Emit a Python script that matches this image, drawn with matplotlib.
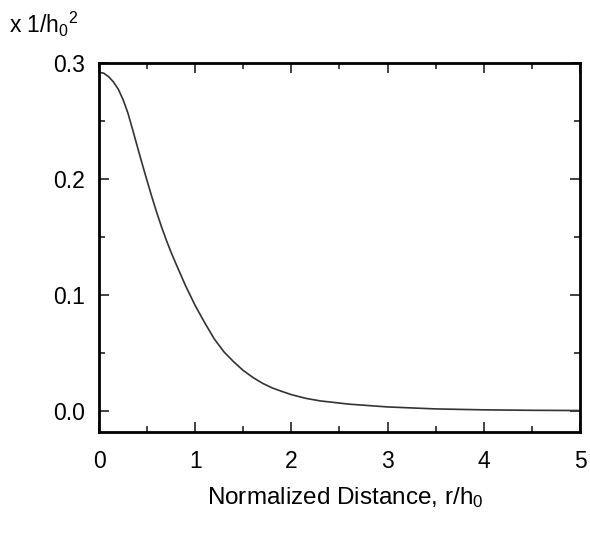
import matplotlib
matplotlib.use("Agg")
import matplotlib.pyplot as plt
from matplotlib.ticker import MultipleLocator

plt.rcParams['font.family'] = ['Liberation Sans', 'DejaVu Sans']
plt.rcParams['mathtext.fontset'] = 'custom'
plt.rcParams['mathtext.rm'] = 'Liberation Sans'
plt.rcParams['mathtext.it'] = 'Liberation Sans'

# Values
r_values = [0.0, 0.05, 0.1, 0.15, 0.2, 0.25, 0.3, 0.35, 0.4, 0.45, 0.5, 0.55, 0.6, 0.65,
            0.7, 0.75, 0.8, 0.9, 1.0, 1.1, 1.2, 1.3, 1.4, 1.5, 1.6, 1.7, 1.8, 1.9, 2.0,
            2.15, 2.3, 2.6, 3.0, 3.5, 4.0, 4.5, 5.0]
density = [0.292, 0.2912, 0.2882, 0.2837, 0.2775, 0.2685, 0.257, 0.2425, 0.2275, 0.2128,
           0.1985, 0.1845, 0.1712, 0.1588, 0.1473, 0.1367, 0.127, 0.108, 0.091, 0.076,
           0.062, 0.051, 0.0425, 0.035, 0.029, 0.024, 0.020, 0.017, 0.0142, 0.011,
           0.0088, 0.0060, 0.0036, 0.0019, 0.0011, 0.0007, 0.0005]
x_ticks = [0, 1, 2, 3, 4, 5]
y_ticks = [0.0, 0.1, 0.2, 0.3]

fig = plt.figure(figsize=(5.90, 5.34), dpi=100)
ax = fig.add_axes([0.1678, 0.191, 0.8152, 0.691])
ax.plot(r_values, density, color='#333333', lw=1.2)
ax.set_xlim(0, 5)
ax.set_ylim(-0.018, 0.3)
ax.set_xticks(x_ticks)
ax.set_xticklabels([str(t) for t in x_ticks])
ax.set_yticks(y_ticks)
ax.set_yticklabels([f"{t:.1f}" for t in y_ticks])
ax.xaxis.set_minor_locator(MultipleLocator(0.5))
ax.yaxis.set_minor_locator(MultipleLocator(0.05))
ax.tick_params(which='both', direction='in', top=True, right=True, width=1.2, color='#222222')
ax.tick_params(which='major', length=7, labelsize=16.5)
ax.tick_params(which='minor', length=4)
ax.tick_params(axis='x', which='major', pad=13)
ax.tick_params(axis='y', which='major', pad=10)
for s in ax.spines.values():
    s.set_linewidth(2)
    s.set_color('black')

fig.text(0.015, 0.955, r"x 1/h$_0$$^2$", fontsize=16.5, ha='left', va='center')
fig.text(0.585, 0.068, r"Normalized Distance, r/h$_0$", fontsize=17.5, ha='center', va='center')

fig.savefig("out.png", dpi=100)
